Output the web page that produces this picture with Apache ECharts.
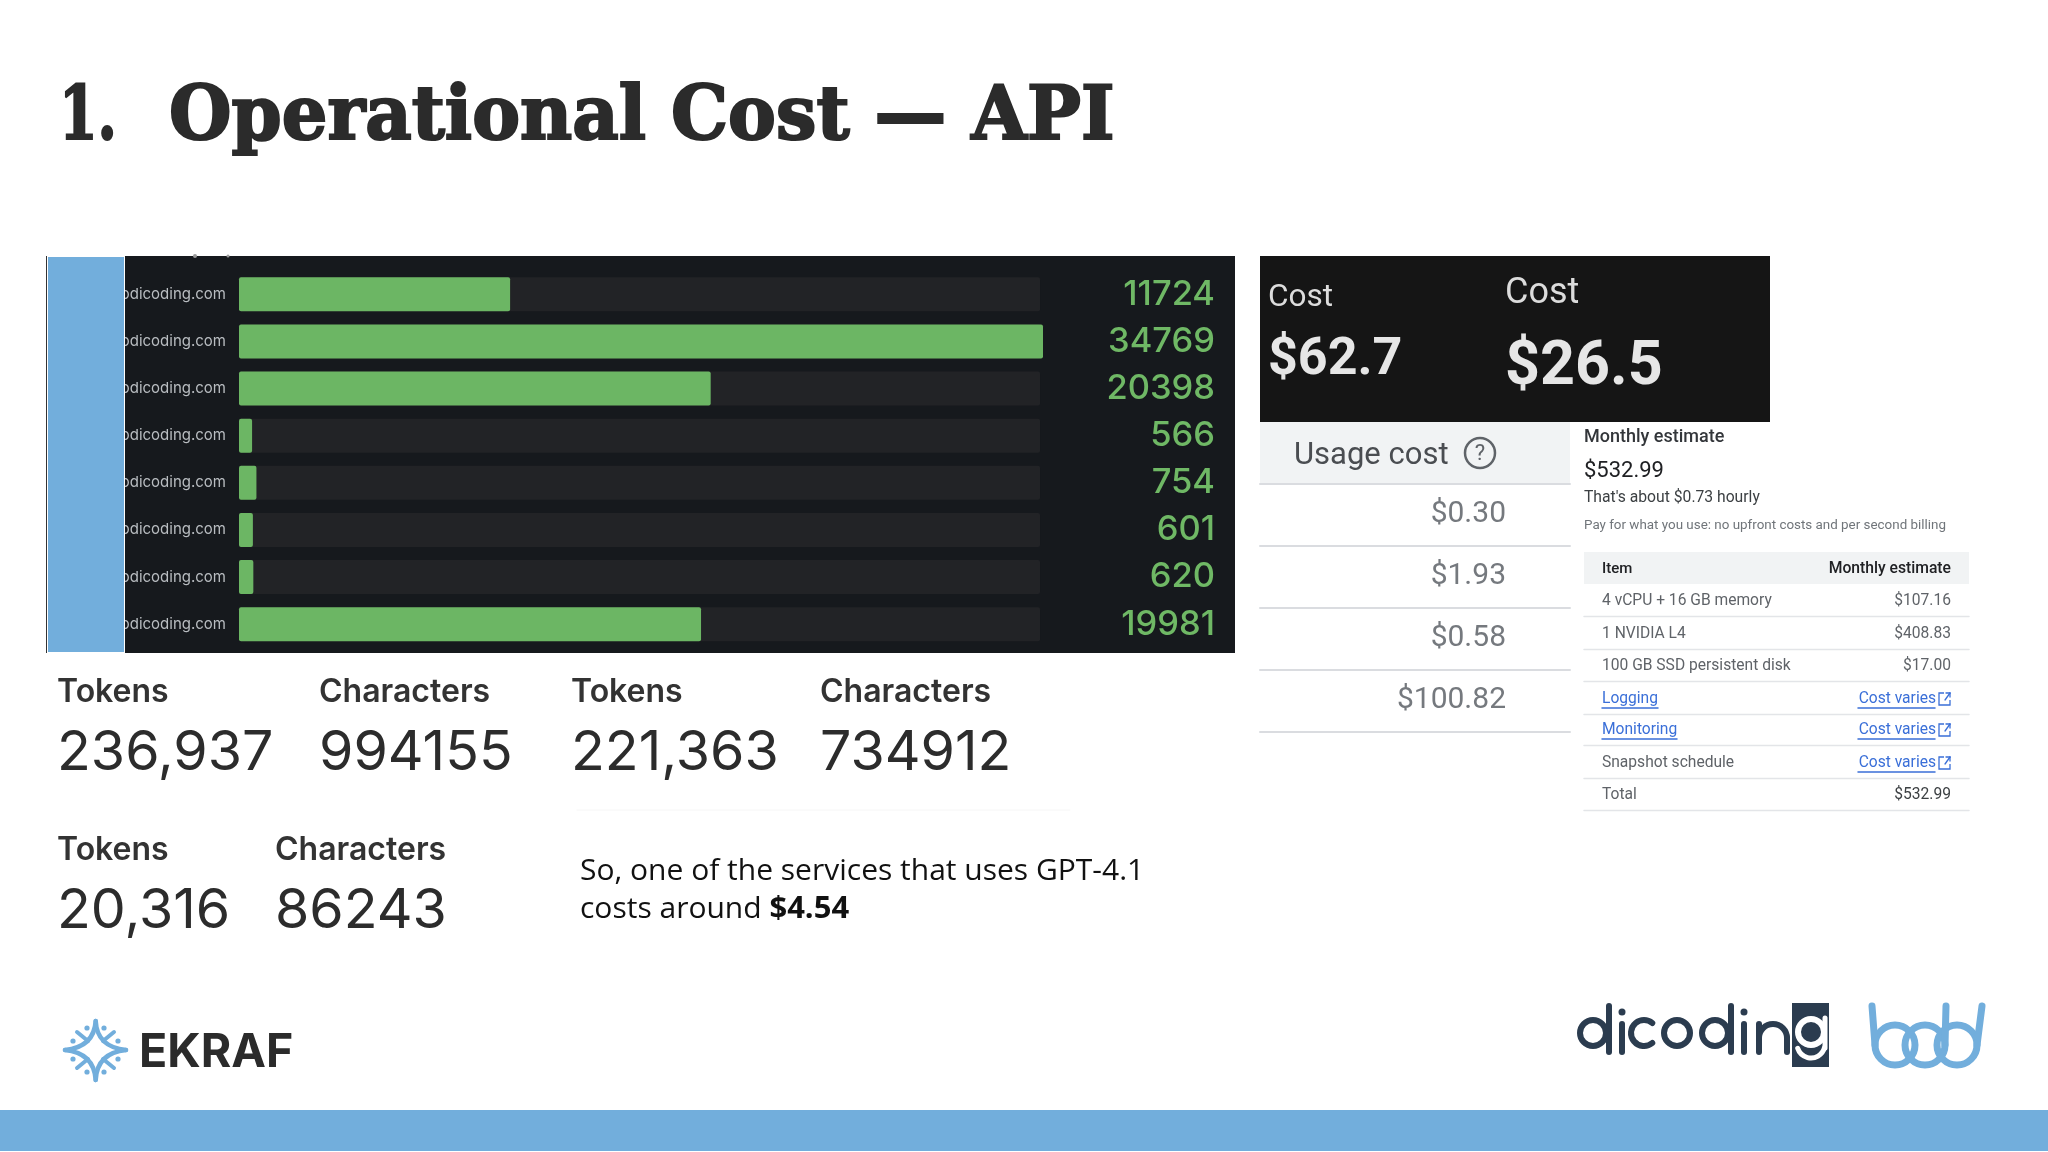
<!DOCTYPE html>
<html>
<head>
<meta charset="utf-8">
<title>Operational Cost - API</title>
<script src="https://cdn.jsdelivr.net/npm/echarts@6/dist/echarts.min.js"></script>
<style>
  html, body { margin: 0; padding: 0; background: #fff; }
  #main { width: 2048px; height: 1152px; }
</style>
</head>
<body>
<div id="main"></div>
<script>
// bar panel
var domains = ['odicoding.com', 'odicoding.com', 'odicoding.com', 'odicoding.com', 'odicoding.com', 'odicoding.com', 'odicoding.com', 'odicoding.com'];
var requests = [11724, 34769, 20398, 566, 754, 601, 620, 19981];
// the grey track stops just short of the longest bar
var trackValues = [34640, 34640, 34640, 34640, 34640, 34640, 34640, 34640];

// token blocks
var tokenLabels = ['Tokens', 'Characters', 'Tokens', 'Characters', 'Tokens', 'Characters'];
var tokenValues = ['236,937', '994155', '221,363', '734912', '20,316', '86243'];

// screenshots on the right
var darkCosts = ['$62.7', '$26.5'];
var usageCosts = ['$0.30', '$1.93', '$0.58', '$100.82'];
var estimateItems = ['4 vCPU + 16 GB memory', '1 NVIDIA L4', '100 GB SSD persistent disk', 'Logging', 'Monitoring', 'Snapshot schedule', 'Total'];
var estimateCosts = ['$107.16', '$408.83', '$17.00', 'Cost varies', 'Cost varies', 'Cost varies', '$532.99'];

var BLUE = '#72aedc';
var NAVY = '#2b3c4f';
var LINK = '#3a6fd8';

var els = [];

function rect(x, y, w, h, fill, z) {
  els.push({ type: 'rect', silent: true, z: z || 1, shape: { x: x, y: y, width: w, height: h }, style: { fill: fill } });
}
function line(x1, y1, x2, y2, color, width, z) {
  els.push({ type: 'line', silent: true, z: z || 5, shape: { x1: x1, y1: y1, x2: x2, y2: y2 }, style: { stroke: color, lineWidth: width, lineCap: 'round' } });
}
function ring(cx, cy, r, color, width, z, fill) {
  els.push({ type: 'circle', silent: true, z: z || 5, shape: { cx: cx, cy: cy, r: r }, style: { fill: fill || 'none', stroke: color, lineWidth: width } });
}
function dot(cx, cy, r, color, z) {
  els.push({ type: 'circle', silent: true, z: z || 5, shape: { cx: cx, cy: cy, r: r }, style: { fill: color } });
}
function arc(cx, cy, r, a0, a1, color, width, z) {
  els.push({ type: 'arc', silent: true, z: z || 5, shape: { cx: cx, cy: cy, r: r, startAngle: a0, endAngle: a1, clockwise: true }, style: { fill: 'none', stroke: color, lineWidth: width, lineCap: 'round' } });
}
function curve(x1, y1, x2, y2, cx, cy, color, width) {
  els.push({ type: 'bezierCurve', silent: true, z: 5, shape: { x1: x1, y1: y1, x2: x2, y2: y2, cpx1: cx, cpy1: cy }, style: { fill: 'none', stroke: color, lineWidth: width, lineCap: 'round' } });
}
function text(x, y, s, size, color, o) {
  o = o || {};
  els.push({
    type: 'text', silent: true, z: o.z || 5, x: x, y: y, scaleX: o.scaleX || 1,
    style: {
      text: s, fontSize: size, fill: color,
      fontFamily: o.font || 'Roboto', fontWeight: o.weight || 400,
      textAlign: o.align || 'left', verticalAlign: 'middle',
      stroke: o.stroke, lineWidth: o.strokeWidth,
      rich: o.rich
    }
  });
}

// background shapes
rect(46, 256, 1, 397, '#333');
rect(125, 256, 1110, 397, '#16191d');
rect(47, 256, 78, 397, '#fff', 20);
rect(48, 257, 76, 395, BLUE, 21);
rect(0, 1110, 2048, 41, BLUE);
dot(195, 256, 2, '#9a9a9a', 6);
dot(228, 256, 1.5, '#9a9a9a', 6);

// title
var heavy = { font: 'DejaVu Serif', weight: 700, stroke: '#2b2b2b', strokeWidth: 2.2 };
text(59, 120, '1.', 74, '#2b2b2b', Object.assign({ scaleX: 0.75 }, heavy));
text(169, 120, 'Operational Cost \u2014 API', 74, '#2b2b2b', Object.assign({ scaleX: 0.97 }, heavy));

// tokens and characters
var tokenX = [57, 319, 571, 820, 57, 275];
var tokenLabelY = [692, 692, 692, 692, 850, 850];
var tokenValueY = [753, 753, 753, 753, 911, 911];
tokenLabels.forEach(function (label, i) {
  text(tokenX[i], tokenLabelY[i], label, 32, '#333', { font: 'Inter', weight: 600 });
  text(tokenX[i], tokenValueY[i], tokenValues[i], 55.5, '#2c2c2c', { font: 'Inter' });
});
line(577, 810, 1070, 810, '#f6f6f6', 1);

// summary sentence
text(580, 871, 'So, one of the services that uses GPT-4.1', 30, '#111', { font: 'Open Sans' });
text(580, 909, 'costs around {b|$4.54}', 30, '#111', {
  font: 'Open Sans',
  rich: { b: { fontFamily: 'Open Sans', fontWeight: 700, fontSize: 31, fill: '#111', color: '#111' } }
});

// dark cost box
rect(1260, 256, 510, 166, '#151515');
text(1268, 298, 'Cost', 31.5, '#dcdcdc');
text(1268, 361, darkCosts[0], 52, '#e6e6e6', { weight: 700 });
text(1505, 294, 'Cost', 36, '#dcdcdc');
text(1505, 369, darkCosts[1], 61, '#e6e6e6', { weight: 700 });

// usage cost table
rect(1260, 422, 310, 61, '#f1f3f4');
line(1260, 484, 1570, 484, '#dadce0', 2);
text(1294, 456, 'Usage cost', 31, '#4a4d51');
ring(1480, 453, 15, '#5f6368', 2.5);
text(1480, 454, '?', 22, '#5f6368', { align: 'center' });
var usageRowY = [514, 576, 638, 700];
usageCosts.forEach(function (c, i) {
  text(1506, usageRowY[i], c, 30, '#75797e', { align: 'right' });
  line(1260, usageRowY[i] + 32, 1570, usageRowY[i] + 32, '#dadce0', 2);
});

// monthly estimate
text(1584, 437, 'Monthly estimate', 18, '#33363a', { weight: 500 });
text(1584, 471, '$532.99', 22, '#202124');
text(1584, 498, "That's about $0.73 hourly", 15.7, '#3c4043');
text(1584, 526, 'Pay for what you use: no upfront costs and per second billing', 13.4, '#70757a');
rect(1584, 552, 385, 32, '#f1f3f4');
text(1602, 569, 'Item', 15, '#202124', { weight: 500 });
text(1951, 569, 'Monthly estimate', 15.7, '#202124', { weight: 500, align: 'right' });
var estimateY = [601, 634, 666, 699, 730, 763, 795];
var linkWidth = [0, 0, 0, 56, 75, 0, 0];
estimateItems.forEach(function (name, i) {
  var y = estimateY[i];
  var isLink = linkWidth[i] > 0;
  var varies = estimateCosts[i] === 'Cost varies';
  text(1602, y, name, 15.6, isLink ? LINK : '#5f6368');
  if (isLink) line(1602, y + 9, 1602 + linkWidth[i], y + 9, LINK, 1.5);
  if (varies) {
    text(1936, y, estimateCosts[i], 15.6, LINK, { align: 'right' });
    line(1858, y + 9, 1935, y + 9, LINK, 1.5);
    // external link icon
    els.push({ type: 'polyline', silent: true, z: 5, shape: { points: [[1944, y - 6], [1939, y - 6], [1939, y + 6], [1950, y + 6], [1950, y + 1]] }, style: { fill: 'none', stroke: LINK, lineWidth: 1.3 } });
    line(1945, y + 1, 1950, y - 6, LINK, 1.3);
    line(1946, y - 6, 1950, y - 6, LINK, 1.3);
    line(1950, y - 6, 1950, y - 2, LINK, 1.3);
  } else {
    text(1951, y, estimateCosts[i], 15.6, i === 6 ? '#3c4043' : '#5f6368', { align: 'right' });
  }
  line(1584, y + 15.5, 1969, y + 15.5, '#e3e5e8', 1.5);
});

// EKRAF logo
curve(95.7, 1021, 126, 1050, 97, 1047, BLUE, 4.5);
curve(126, 1050, 95.7, 1080, 97, 1053, BLUE, 4.5);
curve(95.7, 1080, 65, 1050, 94, 1053, BLUE, 4.5);
curve(65, 1050, 95.7, 1021, 94, 1047, BLUE, 4.5);
line(77, 1032, 88, 1041, BLUE, 4);
line(114, 1032, 103, 1041, BLUE, 4);
line(77, 1068, 88, 1059, BLUE, 4);
line(114, 1068, 103, 1059, BLUE, 4);
[[87, 1028], [104, 1028], [73, 1041], [118, 1041], [73, 1059], [118, 1059], [87, 1072], [104, 1072]].forEach(function (p) {
  dot(p[0], p[1], 2.6, BLUE);
});
text(139, 1053, 'EKRAF', 46.5, '#2b2b2b', { font: 'Inter', weight: 700 });

// dicoding logo, pieces in logo pixels
ring(1593, 1033, 13, NAVY, 6);
line(1609, 1006, 1609, 1052, NAVY, 6);
dot(1622, 1012, 3.5, NAVY);
line(1622, 1024, 1622, 1052, NAVY, 6);
arc(1644, 1033, 13, Math.PI * 0.28, Math.PI * 1.72, NAVY, 6);
ring(1677, 1033, 13, NAVY, 6);
ring(1715, 1033, 13, NAVY, 6);
line(1731, 1006, 1731, 1052, NAVY, 6);
dot(1744, 1012, 3.5, NAVY);
line(1744, 1024, 1744, 1052, NAVY, 6);
line(1759, 1024, 1759, 1052, NAVY, 6);
arc(1773, 1038, 14, Math.PI, Math.PI * 2, NAVY, 6);
line(1787, 1038, 1787, 1052, NAVY, 6);
rect(1792, 1003, 37, 64, NAVY, 5);
ring(1811, 1032, 13, '#fff', 6, 6);
line(1825, 1018, 1825, 1048, '#fff', 5, 6);
arc(1811, 1044, 14, Math.PI * 0.08, Math.PI * 0.9, '#fff', 5, 6);

// bdd logo
ring(1895, 1045, 20, BLUE, 7);
ring(1925, 1045, 20, BLUE, 7);
ring(1957, 1045, 20, BLUE, 7);
line(1872, 1006, 1875, 1045, BLUE, 7);
line(1946, 1006, 1945, 1045, BLUE, 7);
line(1982, 1006, 1977, 1045, BLUE, 7);

var chart = echarts.init(document.getElementById('main'));
chart.setOption({
  animation: false,
  backgroundColor: '#fff',
  graphic: { elements: els },
  grid: { left: 239, width: 804, top: 270.7, height: 377, containLabel: false },
  xAxis: { type: 'value', min: 0, max: 34769, show: false },
  yAxis: [
    {
      type: 'category', data: domains, inverse: true, z: 10,
      axisLine: { show: false }, axisTick: { show: false },
      axisLabel: { color: '#b9bdc1', fontSize: 15, fontFamily: 'Inter', margin: 13, interval: 0 }
    },
    {
      type: 'category', data: requests.map(String), inverse: true, position: 'right', z: 10,
      axisLine: { show: false }, axisTick: { show: false },
      axisLabel: { color: '#6fb865', fontSize: 34.5, fontWeight: 500, fontFamily: 'Inter', align: 'right', margin: 172, interval: 0, padding: [0, 0, 3, 0] }
    }
  ],
  series: [
    {
      type: 'bar', data: trackValues, barWidth: 34, barGap: '-100%', z: 9, silent: true,
      itemStyle: { color: '#222326', borderRadius: 2 }
    },
    {
      type: 'bar', data: requests, barWidth: 34, z: 10,
      itemStyle: { color: '#6cb664', borderRadius: 2 }
    }
  ]
});
</script>
</body>
</html>
